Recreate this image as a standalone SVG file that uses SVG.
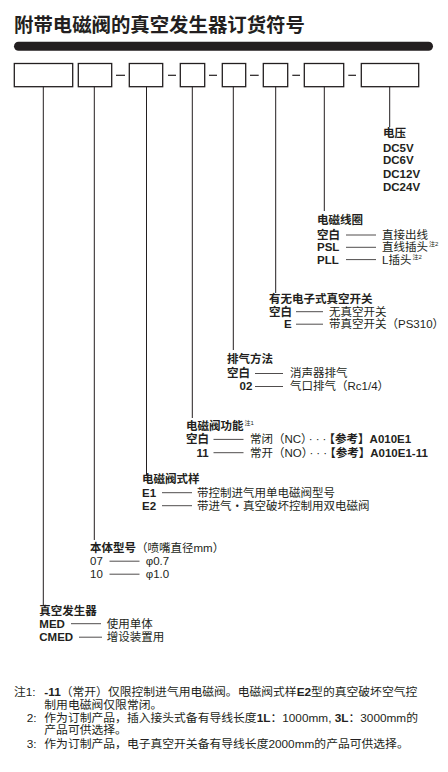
<svg xmlns="http://www.w3.org/2000/svg" width="448" height="772" viewBox="0 0 448 772">
<style>
.t{font-family:"Liberation Sans","Noto Sans CJK SC",sans-serif;font-size:11.5px;fill:#231f20}
.b{font-weight:bold}
.n{font-size:11.8px}
.sup{font-size:6px}
.ell{letter-spacing:3px}
.box{fill:#fff;stroke:#231f20;stroke-width:1.3}
.ln{stroke:#231f20;stroke-width:1;fill:none}
.d{stroke:#231f20;stroke-width:0.8}
.hy{stroke:#231f20;stroke-width:1.2}
</style>
<rect width="448" height="772" fill="#fff"/>
<g id="title">
<text x="14" y="31.6" style="font-family:'Noto Sans CJK SC',sans-serif;font-size:19.4px;font-weight:bold;fill:#231f20">附带电磁阀的真空发生器订货符号</text>
<rect x="14" y="41.7" width="419" height="9" rx="4.5" fill="#231f20"/>
</g>
<g id="code-boxes">
<rect class="box" x="14.3" y="63.5" width="58.4" height="23.2"/>
<rect class="box" x="78.3" y="63.5" width="33.4" height="23.2"/>
<rect class="box" x="129.3" y="63.5" width="33.4" height="23.2"/>
<rect class="box" x="180.3" y="63.5" width="24.4" height="23.2"/>
<rect class="box" x="222.3" y="63.5" width="23.4" height="23.2"/>
<rect class="box" x="263.3" y="63.5" width="24.4" height="23.2"/>
<rect class="box" x="304.3" y="63.5" width="39.4" height="23.2"/>
<rect class="box" x="361.3" y="63.5" width="57.4" height="23.2"/>
<line class="hy" x1="116" y1="75.3" x2="125" y2="75.3"/>
<line class="hy" x1="168" y1="75.3" x2="176" y2="75.3"/>
<line class="hy" x1="209" y1="75.3" x2="217" y2="75.3"/>
<line class="hy" x1="250" y1="75.3" x2="258.7" y2="75.3"/>
<line class="hy" x1="292.3" y1="75.3" x2="300" y2="75.3"/>
<line class="hy" x1="348.3" y1="75.3" x2="356" y2="75.3"/>
</g>
<g id="connectors">
<line class="ln" x1="43.3" y1="86.7" x2="43.3" y2="605"/>
<line class="ln" x1="94.3" y1="86.7" x2="94.3" y2="540"/>
<line class="ln" x1="146.5" y1="86.7" x2="146.5" y2="475"/>
<line class="ln" x1="192.3" y1="86.7" x2="192.3" y2="418"/>
<line class="ln" x1="233.3" y1="86.7" x2="233.3" y2="350"/>
<line class="ln" x1="275.7" y1="86.7" x2="275.7" y2="293"/>
<line class="ln" x1="324.3" y1="86.7" x2="324.3" y2="211"/>
<line class="ln" x1="389.7" y1="86.7" x2="389.7" y2="127"/>
</g>
<g id="voltage">
<text class="t b" x="383" y="136.8">电压</text>
<text class="t b" x="383" y="151.5">DC5V</text>
<text class="t b" x="383" y="164.3">DC6V</text>
<text class="t b" x="383" y="177.5">DC12V</text>
<text class="t b" x="383" y="190.5">DC24V</text>
</g>
<g id="coil">
<text class="t b" x="317" y="223.5">电磁线圈</text>
<text class="t b" x="317" y="238.8">空白</text>
<text class="t b" x="317" y="251.3">PSL</text>
<text class="t b" x="317" y="263.6">PLL</text>
<line class="d" x1="346" y1="235" x2="376" y2="235"/>
<line class="d" x1="346" y1="247.3" x2="376" y2="247.3"/>
<line class="d" x1="346" y1="259.6" x2="376" y2="259.6"/>
<text class="t" x="382" y="238.8">直接出线</text>
<text class="t" x="382" y="251.3">直线插头<tspan class="sup" dy="-5" dx="1">注2</tspan></text>
<text class="t" x="382" y="263.6">L插头<tspan class="sup" dy="-5" dx="1">注2</tspan></text>
</g>
<g id="vacuum-switch">
<text class="t b" x="269" y="302.5">有无电子式真空开关</text>
<text class="t b" x="269" y="315.5">空白</text>
<text class="t b" x="284" y="328">E</text>
<line class="d" x1="296" y1="311.7" x2="323" y2="311.7"/>
<line class="d" x1="296" y1="324.2" x2="323" y2="324.2"/>
<text class="t" x="329" y="315.5">无真空开关</text>
<text class="t" x="329" y="328">带真空开关（PS310）</text>
</g>
<g id="exhaust">
<text class="t b" x="227" y="363.3">排气方法</text>
<text class="t b" x="227" y="377.3">空白</text>
<text class="t b" x="239.5" y="390.3">02</text>
<line class="d" x1="255" y1="373.5" x2="283" y2="373.5"/>
<line class="d" x1="255" y1="386.5" x2="283" y2="386.5"/>
<text class="t" x="290" y="377.3">消声器排气</text>
<text class="t" x="290" y="390.3">气口排气（Rc1/4）</text>
</g>
<g id="valve-function">
<text class="t b" x="186" y="430">电磁阀功能<tspan class="sup" dy="-5" dx="1" style="font-weight:normal">注1</tspan></text>
<text class="t b" x="186" y="443.2">空白</text>
<text class="t b" x="196.5" y="456.5">11</text>
<line class="d" x1="213.5" y1="439.4" x2="243.5" y2="439.4"/>
<line class="d" x1="213.5" y1="452.7" x2="243.5" y2="452.7"/>
<text class="t" x="250" y="443.2">常闭（NC）<tspan class="ell" dx="2">···</tspan><tspan class="b">【参考】A010E1</tspan></text>
<text class="t" x="250" y="456.5">常开（NO）<tspan class="ell" dx="2">···</tspan><tspan class="b">【参考】A010E1-11</tspan></text>
</g>
<g id="valve-type">
<text class="t b" x="142" y="483">电磁阀式样</text>
<text class="t b" x="142" y="496.5">E1</text>
<text class="t b" x="142" y="509.5">E2</text>
<line class="d" x1="162" y1="492.7" x2="192" y2="492.7"/>
<line class="d" x1="162" y1="505.7" x2="192" y2="505.7"/>
<text class="t" x="197" y="496.5">带控制进气用单电磁阀型号</text>
<text class="t" x="197" y="509.5">带进气・真空破坏控制用双电磁阀</text>
</g>
<g id="body-model">
<text class="t" x="90" y="552"><tspan class="b">本体型号</tspan>（喷嘴直径mm）</text>
<text class="t" x="90" y="565">07</text>
<text class="t" x="90" y="578">10</text>
<line class="d" x1="109.5" y1="561.2" x2="139.5" y2="561.2"/>
<line class="d" x1="109.5" y1="574.2" x2="139.5" y2="574.2"/>
<text class="t" x="145.7" y="565">φ0.7</text>
<text class="t" x="145.7" y="578">φ1.0</text>
</g>
<g id="generator">
<text class="t b" x="39.3" y="614.5">真空发生器</text>
<text class="t b" x="39.3" y="627.5">MED</text>
<text class="t b" x="39.3" y="641">CMED</text>
<line class="d" x1="71" y1="623.7" x2="101" y2="623.7"/>
<line class="d" x1="79" y1="637.2" x2="102" y2="637.2"/>
<text class="t" x="106.7" y="627.5">使用单体</text>
<text class="t" x="106.7" y="641">增设装置用</text>
</g>
<g id="notes">
<text class="t n" x="14" y="696">注1:</text>
<text class="t n" x="44.3" y="696"><tspan class="b">-11</tspan>（常开）仅限控制进气用电磁阀。电磁阀式样<tspan class="b">E2</tspan>型的真空破坏空气控</text>
<text class="t n" x="44.3" y="708.5">制用电磁阀仅限常闭。</text>
<text class="t n" x="26.7" y="721.5">2:</text>
<text class="t n" x="44.3" y="721.5">作为订制产品，插入接头式备有导线长度<tspan class="b">1L</tspan>：1000mm, <tspan class="b">3L</tspan>：3000mm的</text>
<text class="t n" x="44.3" y="734">产品可供选择。</text>
<text class="t n" x="26.7" y="747.5">3:</text>
<text class="t n" x="44.3" y="747.5">作为订制产品，电子真空开关备有导线长度2000mm的产品可供选择。</text>
</g>
</svg>
